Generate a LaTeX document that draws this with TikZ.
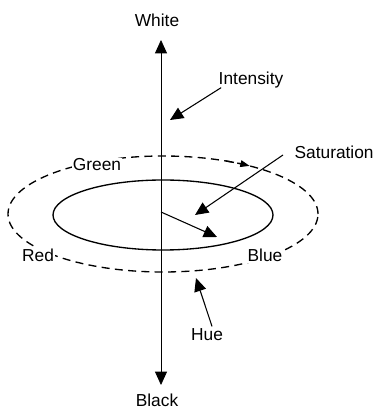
\documentclass[tikz,border=0pt]{standalone}
\usepackage{fontspec}
\setmainfont{Liberation Sans}
\usetikzlibrary{arrows.meta}

\tikzset{
  tag/.style={font=\fontsize{13}{15}\selectfont, inner sep=1pt},
  pointer/.style={line width=0.8pt, -{Triangle[width=9pt,length=10pt]}},
}

\begin{document}
\begin{tikzpicture}[x=0.75pt, y=0.75pt]
    \useasboundingbox (0,0) rectangle (378,410);

    % 上下两端
    \node[tag] (white) at (157,390) {White};
    \node[tag] (black) at (157,10) {Black};
    \coordinate (top) at (161,370);
    \coordinate (bottom) at (161,25);
    \draw[line width=0.6pt, {Triangle[width=9pt,length=10pt]}-{Triangle[width=9pt,length=10pt]}] (bottom) -- (top);

    % 内圈（饱和度）
    \draw[line width=1pt] (163,195) ellipse [x radius=110, y radius=35];

    % 外圈（色调），虚线
    \draw[line width=1pt, dash pattern=on 6pt off 4pt] (163,196) ellipse [x radius=155, y radius=58];
    \draw[line width=1pt, dash pattern=on 6pt off 4pt, -{Triangle[width=5pt,length=7pt]}]
        (163,196) ++(66:155 and 58) arc[start angle=66, end angle=56, x radius=155, y radius=58];

    % 颜色名
    \node[tag, fill=white] (green) at (97,245) {Green};
    \node[tag, fill=white] (red) at (38,155) {Red};
    \node[tag, fill=white] (blue) at (265,155) {Blue};

    % 说明文字和箭头
    \node[tag] (intensity) at (251,330) {Intensity};
    \coordinate (intensitytip) at (170,290);
    \draw[pointer] (intensity.south west) ++(4,2) coordinate (intensityfoot) -- (intensitytip);

    \node[tag, anchor=west] (saturation) at (293,258) {Saturation};
    \coordinate (saturationtip) at (195,195);
    \draw[pointer] (283,255) coordinate (saturationfoot) -- (saturationtip);

    \coordinate (center) at (161,198);
    \coordinate (radiustip) at (217,173);
    \draw[pointer] (center) -- (radiustip);

    \node[tag] (hue) at (207,75) {Hue};
    \coordinate (huetip) at (196,132);
    \draw[pointer] (hue.north) ++(5,1) coordinate (huefoot) -- (huetip);
\end{tikzpicture}
\end{document}
